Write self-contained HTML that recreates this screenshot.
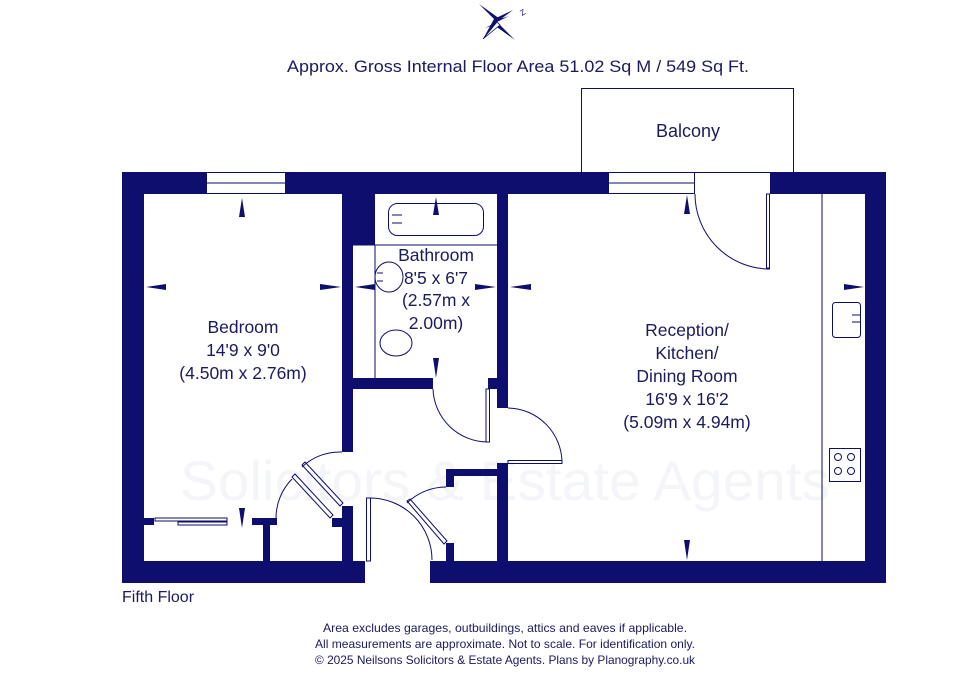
<!DOCTYPE html>
<html><head><meta charset="utf-8"><style>
html,body{margin:0;padding:0;background:#fff;}
svg{display:block;}
text{font-family:"Liberation Sans",sans-serif;fill:#1a1a5e;}
</style></head><body>
<svg width="976" height="674" viewBox="0 0 976 674" xmlns="http://www.w3.org/2000/svg">
<rect width="976" height="674" fill="#fff"/>
<text x="505" y="500" font-size="56" text-anchor="middle" style="fill:#f4f5f9" textLength="650" lengthAdjust="spacingAndGlyphs">Solicitors &amp; Estate Agents</text>
<g fill="#0d0e6e">
<polygon points="497,22 479,4 500,19 509,16"/>
<polygon points="497,22 515,40 494,25 485,28"/>
<polygon points="497,22 483,39 494,19 513,10"/>
<polygon points="497,22 483,39 500,25" fill="#fff" stroke="#0d0e6e" stroke-width="0.8"/>
<text x="522" y="16" font-size="8" style="fill:#0d0e6e" transform="rotate(-30 522 16)">Z</text>
</g>
<text x="518" y="72" font-size="17" text-anchor="middle" textLength="462" lengthAdjust="spacingAndGlyphs">Approx. Gross Internal Floor Area 51.02 Sq M / 549 Sq Ft.</text>
<rect x="581.5" y="88.5" width="212" height="84" fill="none" stroke="#0d0e6e" stroke-width="1"/>
<text x="688" y="137" font-size="18" text-anchor="middle">Balcony</text>
<g fill="#0d0e6e">
<rect x="122" y="172" width="84" height="22"/>
<rect x="286" y="172" width="322" height="22"/>
<rect x="770" y="172" width="116" height="22"/>
<rect x="122" y="172" width="22" height="411"/>
<rect x="865" y="172" width="21" height="411"/>
<rect x="122" y="561" width="243" height="22"/>
<rect x="430" y="561" width="456" height="22"/>
<rect x="342" y="194" width="33" height="51"/>
<rect x="342" y="194" width="11" height="258"/>
<rect x="342" y="506" width="11" height="55"/>
<rect x="332" y="518" width="10" height="9"/>
<rect x="353" y="378" width="80" height="11"/>
<rect x="488" y="378" width="9" height="11"/>
<rect x="497" y="194" width="11" height="214"/>
<rect x="497" y="463" width="11" height="98"/>
<rect x="446" y="469" width="51" height="7"/>
<rect x="446" y="469" width="8" height="18"/>
<rect x="446" y="543" width="8" height="18"/>
<rect x="144" y="518" width="10" height="7"/>
<rect x="252" y="518" width="25" height="7"/>
<rect x="263" y="518" width="7" height="43"/>
</g>
<g fill="#fff" stroke="#0d0e6e" stroke-width="1">
<rect x="206.5" y="172.5" width="79" height="21"/>
<line x1="206" y1="183" x2="286" y2="183"/>
<rect x="608.5" y="172.5" width="86" height="21"/>
<line x1="608" y1="183" x2="695" y2="183"/>
</g>
<g fill="none" stroke="#0d0e6e" stroke-width="1">
<rect x="766.5" y="194" width="3" height="74"/>
<path d="M695,194 A75,75 0 0 0 770,269"/>
<path d="M302,467 A55,55 0 0 1 342,452"/>
<polygon points="302,465 305,462 343,503 340,506"/>
<path d="M292,479 A56,56 0 0 0 276,518"/>
<polygon points="292,477 295,474 333,515 330,518"/>
<rect x="366.5" y="498" width="4" height="63"/>
<path d="M370,498 A62,62 0 0 1 432,560"/>
<path d="M407,503 A56,56 0 0 1 446,487"/>
<polygon points="407,501 410,499 447,541 444,544"/>
<polyline points="497,464 508,464"/>
<rect x="486" y="389" width="3.5" height="53"/>
<path d="M433,389 A55,55 0 0 0 488,442"/>
<rect x="508" y="460.5" width="54" height="3"/>
<path d="M508,408 A55,55 0 0 1 562,463"/>
<rect x="388.5" y="203.5" width="95" height="32" rx="9"/>
<line x1="392" y1="215" x2="402" y2="215"/><line x1="392" y1="223" x2="402" y2="223"/>
<line x1="353" y1="245" x2="497" y2="245"/>
<line x1="375" y1="245" x2="375" y2="378"/>
<ellipse cx="389" cy="277" rx="14" ry="15"/>
<line x1="377" y1="273" x2="383" y2="273"/><line x1="377" y1="281" x2="383" y2="281"/>
<ellipse cx="396" cy="343" rx="16" ry="13"/>
<rect x="155" y="518" width="72" height="3"/>
<rect x="178" y="522" width="49" height="3"/>
<line x1="822" y1="194" x2="822" y2="561"/>
<rect x="832.5" y="302.5" width="28" height="35" rx="3"/>
<line x1="852" y1="315" x2="860" y2="315"/><line x1="852" y1="322" x2="860" y2="322"/>
<rect x="829.5" y="448.5" width="31" height="33"/>
<circle cx="838" cy="457" r="3.5"/><circle cx="851" cy="457" r="3.5"/>
<circle cx="838" cy="471" r="3.5"/><circle cx="851" cy="471" r="3.5"/>
</g>
<g fill="#0d0e6e">
<polygon points="242,198 239,217 245,217"/>
<polygon points="242,528 239,508 245,508"/>
<polygon points="146,287 166,284 166,290"/>
<polygon points="341,287 320,284 320,290"/>
<polygon points="355,287 375,284 375,290"/>
<polygon points="496,287 475,284 475,290"/>
<polygon points="436,197 433,215 439,215"/>
<polygon points="436,378 433,358 439,358"/>
<polygon points="510,287 531,284 531,290"/>
<polygon points="687,195 684,214 690,214"/>
<polygon points="687,560 684,540 690,540"/>
<polygon points="864,287 844,284 844,290"/>
</g>
<g font-size="17.5" text-anchor="middle">
<text x="243" y="333">Bedroom</text>
<text x="243" y="356">14'9 x 9'0</text>
<text x="243" y="379">(4.50m x 2.76m)</text>
<text x="436" y="261">Bathroom</text>
<text x="436" y="284">8'5 x 6'7</text>
<text x="436" y="306">(2.57m x</text>
<text x="436" y="329">2.00m)</text>
<text x="687" y="336">Reception/</text>
<text x="687" y="359">Kitchen/</text>
<text x="687" y="382">Dining Room</text>
<text x="687" y="405">16'9 x 16'2</text>
<text x="687" y="428">(5.09m x 4.94m)</text>
</g>
<text x="122" y="602" font-size="16">Fifth Floor</text>
<g font-size="12" text-anchor="middle">
<text x="505" y="632" textLength="364" lengthAdjust="spacingAndGlyphs">Area excludes garages, outbuildings, attics and eaves if applicable.</text>
<text x="505" y="648" textLength="380" lengthAdjust="spacingAndGlyphs">All measurements are approximate. Not to scale. For identification only.</text>
<text x="505" y="664" textLength="380" lengthAdjust="spacingAndGlyphs">© 2025 Neilsons Solicitors &amp; Estate Agents. Plans by Planography.co.uk</text>
</g>
</svg>
</body></html>
